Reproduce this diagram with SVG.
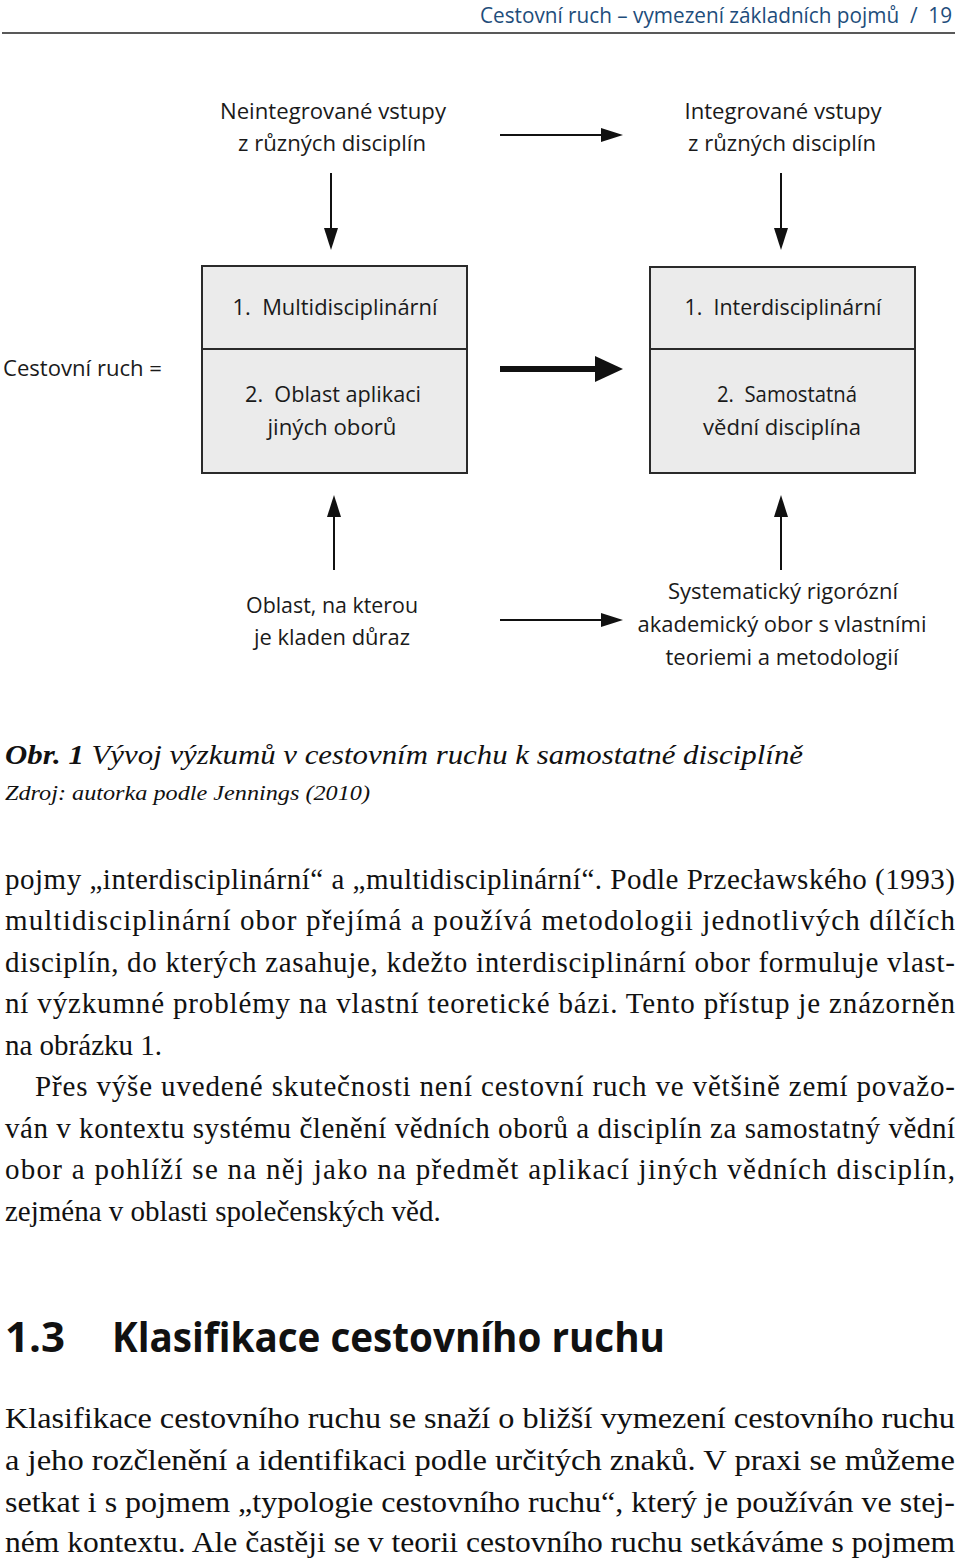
<svg xmlns="http://www.w3.org/2000/svg" width="960" height="1563" viewBox="0 0 960 1563">
<style>
.d{font-family:"Open Sans","Noto Sans",sans-serif;font-size:21px;fill:#1a1a1a;text-anchor:middle}
.b{font-family:"Liberation Serif","Times New Roman",serif;font-size:29px;fill:#111}
.c{font-family:"Liberation Serif","Times New Roman",serif;font-size:30px;fill:#111}
.box{fill:#ebebeb;stroke:#2a2a2a;stroke-width:2}
.ln{stroke:#111;stroke-width:2;fill:none}
.hd{fill:#111;stroke:none}
</style>
<rect width="960" height="1563" fill="#fff"/>
<g id="header">
<text x="952" y="23" text-anchor="end" font-family="'Open Sans',sans-serif" font-size="21" fill="#1e4d7b" textLength="472" lengthAdjust="spacingAndGlyphs">Cestovní ruch – vymezení základních pojmů&#160;&#160;/&#160;&#160;19</text>
<line x1="2" y1="33" x2="955" y2="33" stroke="#222" stroke-width="1.5"/>
</g>
<g id="n-neintegrovane">
<text class="d" x="333" y="119" textLength="226" lengthAdjust="spacingAndGlyphs">Neintegrované vstupy</text>
<text class="d" x="332" y="151" textLength="188" lengthAdjust="spacingAndGlyphs">z různých disciplín</text>
</g>
<g id="n-integrovane">
<text class="d" x="783" y="119" textLength="197" lengthAdjust="spacingAndGlyphs">Integrované vstupy</text>
<text class="d" x="782" y="151" textLength="188" lengthAdjust="spacingAndGlyphs">z různých disciplín</text>
</g>
<g id="n-cestovni">
<text x="3" y="376" font-family="'Open Sans',sans-serif" font-size="21" fill="#1a1a1a" textLength="159" lengthAdjust="spacingAndGlyphs">Cestovní ruch =</text>
</g>
<g id="n-box-left">
<rect class="box" x="202" y="266" width="265" height="207"/>
<line x1="202" y1="349" x2="467" y2="349" stroke="#2a2a2a" stroke-width="2"/>
<text class="d" x="335" y="315" textLength="205" lengthAdjust="spacingAndGlyphs">1.&#160; Multidisciplinární</text>
<text class="d" x="333" y="402" textLength="176" lengthAdjust="spacingAndGlyphs">2.&#160; Oblast aplikaci</text>
<text class="d" x="332" y="435" textLength="129" lengthAdjust="spacingAndGlyphs">jiných oborů</text>
</g>
<g id="n-box-right">
<rect class="box" x="650" y="267" width="265" height="206"/>
<line x1="650" y1="349" x2="915" y2="349" stroke="#2a2a2a" stroke-width="2"/>
<text class="d" x="783" y="315" textLength="197" lengthAdjust="spacingAndGlyphs">1.&#160; Interdisciplinární</text>
<text class="d" x="787" y="402" textLength="140" lengthAdjust="spacingAndGlyphs">2.&#160; Samostatná</text>
<text class="d" x="782" y="435" textLength="158" lengthAdjust="spacingAndGlyphs">vědní disciplína</text>
</g>
<g id="n-oblast">
<text class="d" x="332" y="613" textLength="172" lengthAdjust="spacingAndGlyphs">Oblast, na kterou</text>
<text class="d" x="332" y="645" textLength="156" lengthAdjust="spacingAndGlyphs">je kladen důraz</text>
</g>
<g id="n-systematicky">
<text class="d" x="783" y="599" textLength="230" lengthAdjust="spacingAndGlyphs">Systematický rigorózní</text>
<text class="d" x="782" y="632" textLength="289" lengthAdjust="spacingAndGlyphs">akademický obor s vlastními</text>
<text class="d" x="782" y="665" textLength="233" lengthAdjust="spacingAndGlyphs">teoriemi a metodologií</text>
</g>
<g id="connectors">
<line class="ln" x1="500" y1="135" x2="605" y2="135"/>
<polygon class="hd" points="601,128 623,135 601,142"/>
<line class="ln" x1="331" y1="173" x2="331" y2="232"/>
<polygon class="hd" points="324,228 338,228 331,250"/>
<line class="ln" x1="781" y1="173" x2="781" y2="232"/>
<polygon class="hd" points="774,228 788,228 781,250"/>
<line x1="500" y1="369" x2="598" y2="369" stroke="#111" stroke-width="6"/>
<polygon class="hd" points="595,356 623,369 595,382"/>
<line class="ln" x1="334" y1="570" x2="334" y2="512"/>
<polygon class="hd" points="327,517 341,517 334,495"/>
<line class="ln" x1="781" y1="570" x2="781" y2="512"/>
<polygon class="hd" points="774,517 788,517 781,495"/>
<line class="ln" x1="500" y1="620" x2="605" y2="620"/>
<polygon class="hd" points="601,613 623,620 601,627"/>
</g>
<g id="caption">
<text x="5" y="764" font-family="'Liberation Serif',serif" font-size="28" font-style="italic" fill="#111" textLength="798" lengthAdjust="spacingAndGlyphs"><tspan font-weight="bold">Obr. 1</tspan> Vývoj výzkumů v cestovním ruchu k samostatné disciplíně</text>
<text x="5" y="800" font-family="'Liberation Serif',serif" font-size="22" font-style="italic" fill="#111" textLength="365" lengthAdjust="spacingAndGlyphs">Zdroj: autorka podle Jennings (2010)</text>
</g>
<g id="body">
<text class="b" x="5" y="889" textLength="950" lengthAdjust="spacing">pojmy „interdisciplinární“ a „multidisciplinární“. Podle Przecławského (1993)</text>
<text class="b" x="5" y="930" textLength="950" lengthAdjust="spacing">multidisciplinární obor přejímá a používá metodologii jednotlivých dílčích</text>
<text class="b" x="5" y="972" textLength="950" lengthAdjust="spacing">disciplín, do kterých zasahuje, kdežto interdisciplinární obor formuluje vlast-</text>
<text class="b" x="5" y="1013" textLength="950" lengthAdjust="spacing">ní výzkumné problémy na vlastní teoretické bázi. Tento přístup je znázorněn</text>
<text class="b" x="5" y="1055">na obrázku 1.</text>
<text class="b" x="35" y="1096" textLength="920" lengthAdjust="spacing">Přes výše uvedené skutečnosti není cestovní ruch ve většině zemí považo-</text>
<text class="b" x="5" y="1138" textLength="950" lengthAdjust="spacing">ván v kontextu systému členění vědních oborů a disciplín za samostatný vědní</text>
<text class="b" x="5" y="1179" textLength="950" lengthAdjust="spacing">obor a pohlíží se na něj jako na předmět aplikací jiných vědních disciplín,</text>
<text class="b" x="5" y="1221">zejména v oblasti společenských věd.</text>
</g>
<g id="heading">
<text x="5" y="1352" font-family="'Open Sans',sans-serif" font-weight="bold" font-size="42" fill="#111" textLength="60" lengthAdjust="spacingAndGlyphs">1.3</text>
<text x="112" y="1352" font-family="'Open Sans',sans-serif" font-weight="bold" font-size="42" fill="#111" textLength="553" lengthAdjust="spacingAndGlyphs">Klasifikace cestovního ruchu</text>
</g>
<g id="body2">
<text class="c" x="5" y="1428" textLength="950" lengthAdjust="spacingAndGlyphs">Klasifikace cestovního ruchu se snaží o bližší vymezení cestovního ruchu</text>
<text class="c" x="5" y="1470" textLength="950" lengthAdjust="spacingAndGlyphs">a jeho rozčlenění a identifikaci podle určitých znaků. V praxi se můžeme</text>
<text class="c" x="5" y="1512" textLength="950" lengthAdjust="spacingAndGlyphs">setkat i s pojmem „typologie cestovního ruchu“, který je používán ve stej-</text>
<text class="c" x="5" y="1552" textLength="950" lengthAdjust="spacingAndGlyphs">ném kontextu. Ale častěji se v teorii cestovního ruchu setkáváme s pojmem</text>
</g>
</svg>
